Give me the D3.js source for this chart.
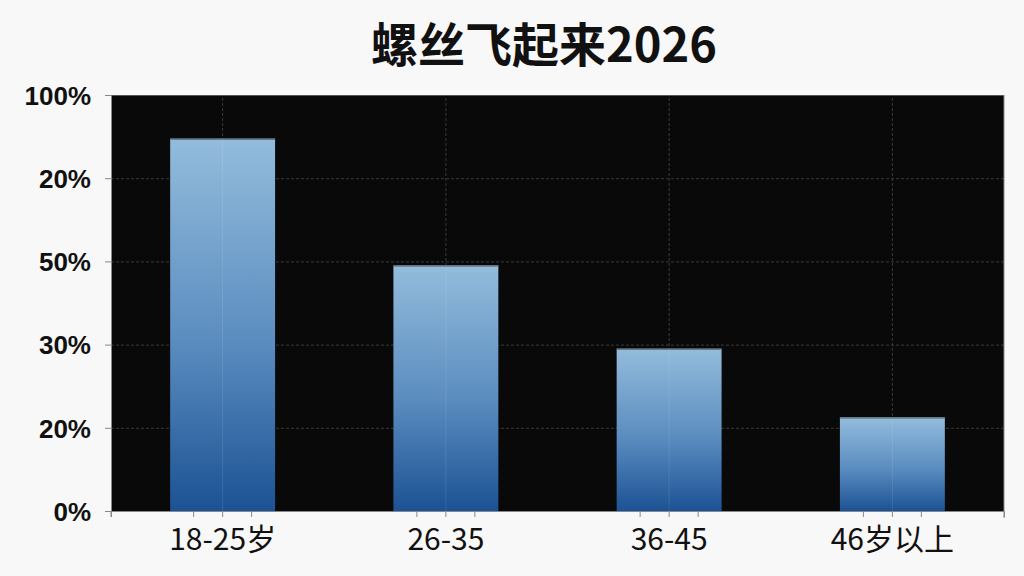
<!DOCTYPE html>
<meta charset="utf-8">
<html>
<head>
  <style>
    body { margin: 0; background: #f8f8f8; }
    svg { display: block; }
    .grid line { stroke: #3a3a3a; stroke-dasharray: 3,2; }
    .grid path { display: none; }
  </style>
</head>
<body>
<script src="https://cdn.jsdelivr.net/npm/d3@7"></script>
<script>

// data
var categories = ["18-25岁", "26-35", "36-45", "46岁以上"];
var values = [89.5, 59, 39, 22.5];
var yTickValues = [0, 20, 40, 60, 80, 100];
var yTickLabels = ["0%", "20%", "30%", "50%", "20%", "100%"];
var title = "螺丝飞起来2026";

var margin = {top: 95, right: 20, bottom: 65, left: 111},
    width = 1024 - margin.left - margin.right,
    height = 576 - margin.top - margin.bottom;

var svg = d3.select("body").append("svg")
    .attr("width", 1024)
    .attr("height", 576);

var grad = svg.append("defs").append("linearGradient")
    .attr("id", "barGrad")
    .attr("x1", 0).attr("y1", 0).attr("x2", 0).attr("y2", 1);
grad.append("stop").attr("offset", "0%").attr("stop-color", "#93bcdc");
grad.append("stop").attr("offset", "55%").attr("stop-color", "#5a8cbf");
grad.append("stop").attr("offset", "100%").attr("stop-color", "#1c5294");

svg.append("text")
    .attr("x", 544)
    .attr("y", 62)
    .attr("text-anchor", "middle")
    .style("font-family", "'Noto Sans CJK SC', sans-serif")
    .style("font-weight", "bold")
    .style("font-size", "47px")
    .style("fill", "#111")
    .text(title);

var g = svg.append("g")
    .attr("transform", "translate(" + margin.left + "," + margin.top + ")");

var x = d3.scaleBand()
    .domain(categories)
    .range([0, width])
    .paddingInner(0.53)
    .paddingOuter(0.265);

var y = d3.scaleLinear()
    .domain([0, 100])
    .range([height, 0]);

// plot background
g.append("rect")
    .attr("width", width)
    .attr("height", height)
    .attr("fill", "#090909");

// gridlines
g.append("g")
    .attr("class", "grid")
    .call(d3.axisLeft(y).tickValues(yTickValues).tickSize(-width).tickFormat(""));

g.append("g")
    .attr("class", "grid")
    .attr("transform", "translate(0," + height + ")")
    .call(d3.axisBottom(x).tickSize(-height).tickFormat(""));

// bars
g.selectAll(".bar")
    .data(values)
    .enter()
    .append("rect")
    .attr("class", "bar")
    .attr("x", function(d, i) { return x(categories[i]); })
    .attr("y", function(d) { return y(d); })
    .attr("width", x.bandwidth())
    .attr("height", function(d) { return height - y(d); })
    .attr("fill", "url(#barGrad)");

// thin top edge of each bar
g.selectAll(".barTop")
    .data(values)
    .enter()
    .append("line")
    .attr("x1", function(d, i) { return x(categories[i]); })
    .attr("x2", function(d, i) { return x(categories[i]) + x.bandwidth(); })
    .attr("y1", function(d) { return y(d) + 0.5; })
    .attr("y2", function(d) { return y(d) + 0.5; })
    .attr("stroke", "#6b7a88")
    .attr("stroke-width", 1.5);

// faint centre line through the bars
g.selectAll(".barMid")
    .data(values)
    .enter()
    .append("line")
    .attr("x1", function(d, i) { return x(categories[i]) + x.bandwidth() / 2; })
    .attr("x2", function(d, i) { return x(categories[i]) + x.bandwidth() / 2; })
    .attr("y1", function(d) { return y(d) + 2; })
    .attr("y2", height)
    .attr("stroke", "#ffffff")
    .attr("stroke-opacity", 0.1);

// top border
g.append("line")
    .attr("x1", 0).attr("x2", width)
    .attr("y1", 0.5).attr("y2", 0.5)
    .attr("stroke", "#555");

// y axis
var yAxis = g.append("g")
    .call(d3.axisLeft(y)
        .tickValues(yTickValues)
        .tickSize(6)
        .tickPadding(14)
        .tickFormat(function(d, i) { return yTickLabels[i]; }));
yAxis.select(".domain").attr("stroke", "#888");
yAxis.selectAll(".tick line").attr("stroke", "#888");
yAxis.selectAll("text")
    .style("font-family", "'Liberation Sans', Arial, sans-serif")
    .style("font-weight", "bold")
    .style("font-size", "26px")
    .style("fill", "#111")
    .attr("dy", "0.36em");

// x axis
var xAxis = g.append("g")
    .attr("transform", "translate(0," + height + ")")
    .call(d3.axisBottom(x).tickSize(6).tickPadding(12));
xAxis.select(".domain").attr("stroke", "#888");
xAxis.selectAll(".tick line").attr("stroke", "#888");
xAxis.selectAll("text")
    .style("font-family", "'Noto Sans CJK SC', sans-serif")
    .style("font-size", "30px")
    .style("fill", "#111");

// small side ticks around each category
var side = [-29, 29];
categories.forEach(function(c) {
  side.forEach(function(o) {
    xAxis.append("line")
      .attr("x1", x(c) + x.bandwidth() / 2 + o)
      .attr("x2", x(c) + x.bandwidth() / 2 + o)
      .attr("y1", 0).attr("y2", 6)
      .attr("stroke", "#888");
  });
});
xAxis.append("line")
  .attr("x1", width).attr("x2", width)
  .attr("y1", -height).attr("y2", 7)
  .attr("stroke", "#888");
xAxis.append("line")
  .attr("x1", 0).attr("x2", 0)
  .attr("y1", 0).attr("y2", 6)
  .attr("stroke", "#888");

</script>
</body>
</html>
